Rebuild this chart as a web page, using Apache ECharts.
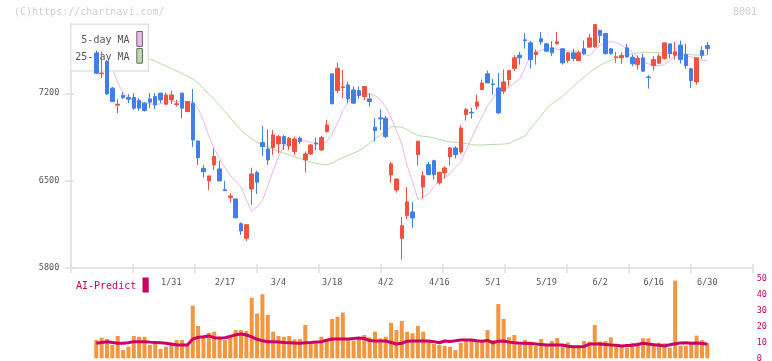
<!DOCTYPE html>
<html><head><meta charset="utf-8">
<script src="https://cdn.jsdelivr.net/npm/echarts@6/dist/echarts.min.js"></script>
<style>html,body{margin:0;padding:0;background:#fff}#c{width:772px;height:361px}</style>
</head><body><div id="c"></div>
<script>
const dates = ["1/10","1/14","1/15","1/16","1/17","1/20","1/21","1/22","1/23","1/24","1/27","1/28","1/29","1/30","1/31",
"2/3","2/4","2/5","2/6","2/7","2/10","2/12","2/13","2/14","2/17","2/18","2/19","2/20","2/21","2/25","2/26","2/27","2/28",
"3/3","3/4","3/5","3/6","3/7","3/10","3/11","3/12","3/13","3/14","3/17","3/18","3/19","3/21","3/24","3/25","3/26","3/27","3/28","3/31",
"4/1","4/2","4/3","4/4","4/7","4/8","4/9","4/10","4/11","4/14","4/15","4/16","4/17","4/18","4/21","4/22","4/23","4/24","4/25","4/28","4/30",
"5/1","5/2","5/7","5/8","5/9","5/12","5/13","5/14","5/15","5/16","5/19","5/20","5/21","5/22","5/23","5/26","5/27","5/28","5/29","5/30",
"6/2","6/3","6/4","6/5","6/6","6/9","6/10","6/11","6/12","6/13","6/16","6/17","6/18","6/19","6/20","6/23","6/24","6/25","6/26","6/27","6/30"];

const openV = [7522,7356,7454,7241,7105,7182,7166,7166,7142,7121,
7155,7174,7201,7113,7147,7110,7201,7053,7121,6818,
6599,6498,6626,6594,6428,6364,6353,6155,6038,6433,
6564,6805,6754,6765,6794,6853,6778,6733,6840,6666,
6714,6802,6746,6893,7356,7222,7246,7267,7227,7222,
7174,7155,6928,7003,7000,6546,6425,6038,6219,6249,
6708,6450,6628,6660,6482,6562,6690,6762,6730,7029,
7048,7096,7230,7356,7275,7243,7217,7310,7398,7505,
7628,7604,7510,7637,7596,7564,7596,7556,7462,7524,
7462,7556,7570,7572,7703,7679,7556,7486,7484,7564,
7489,7430,7484,7331,7422,7441,7478,7596,7505,7585,
7510,7396,7291,7542,7582];
const closeV = [7361,7362,7195,7133,7112,7166,7153,7081,7081,7061,
7129,7107,7147,7187,7187,7116,7081,7133,6826,6684,
6572,6538,6693,6498,6420,6377,6203,6097,6147,6554,
6487,6773,6666,6866,6853,6794,6840,6834,6813,6714,
6786,6794,6845,6946,7115,7401,7252,7155,7121,7182,
7254,7134,6901,6995,6853,6634,6514,6139,6329,6201,
6816,6540,6548,6548,6567,6602,6762,6708,6922,7069,
7043,7131,7283,7283,7270,7043,7291,7382,7484,7484,
7622,7470,7530,7612,7537,7524,7612,7444,7524,7478,
7524,7516,7644,7751,7663,7518,7518,7492,7502,7492,
7436,7478,7377,7326,7470,7497,7604,7518,7532,7470,
7422,7302,7484,7505,7558];
const lowV = [7353,7321,7187,7131,7040,7153,7121,7067,7061,7053,
7081,7073,7121,7107,7113,7093,6998,7053,6770,6626,
6524,6425,6586,6498,6420,6324,6197,6065,6017,6305,
6393,6698,6626,6706,6720,6746,6746,6706,6794,6564,
6706,6746,6738,6885,7115,7201,7161,7121,7115,7155,
7147,7093,6813,6906,6840,6484,6404,5867,6193,6121,
6620,6356,6548,6508,6468,6516,6620,6677,6714,6981,
6997,7069,7225,7283,7190,7035,7195,7257,7377,7430,
7558,7398,7430,7590,7532,7497,7590,7430,7444,7457,
7457,7505,7564,7564,7604,7510,7510,7444,7436,7484,
7417,7390,7372,7238,7382,7436,7470,7478,7470,7438,
7398,7243,7270,7476,7510];
const highV = [7542,7534,7468,7251,7153,7209,7193,7201,7161,7129,
7201,7201,7206,7206,7222,7147,7206,7140,7233,6818,
6626,6538,6760,6660,6498,6399,6359,6166,6153,6604,
6580,6939,6912,6906,6866,6866,6850,6853,6853,6733,
6794,6845,6858,6987,7356,7446,7388,7294,7254,7254,
7259,7201,7000,7073,7019,6652,6514,6209,6449,6329,
6821,6575,6650,6668,6570,6615,6768,6776,6944,7083,
7083,7190,7310,7382,7315,7364,7390,7382,7505,7532,
7679,7618,7550,7692,7604,7618,7692,7564,7529,7556,
7542,7622,7676,7756,7711,7684,7564,7532,7529,7596,
7510,7502,7516,7345,7497,7516,7604,7596,7612,7622,
7596,7404,7484,7578,7610];
const ma5 = [7532,7500,7452,7393,7287,7202,7166,7142,7133,7125,
7115,7108,7117,7125,7133,7133,7133,7133,7133,7076,
6980,6858,6757,6679,6604,6542,6497,6452,6346,6255,
6291,6342,6459,6577,6696,6777,6802,6814,6824,6818,
6807,6798,6790,6812,6875,6959,7062,7128,7178,7191,
7197,7195,7182,7150,7091,7005,6901,6794,6620,6493,
6348,6369,6393,6453,6503,6530,6556,6606,6651,6742,
6838,6931,7016,7101,7161,7213,7230,7250,7282,7314,
7405,7504,7523,7547,7552,7557,7554,7546,7538,7538,
7536,7517,7498,7548,7586,7607,7614,7607,7586,7559,
7530,7493,7455,7436,7424,7421,7430,7465,7498,7505,
7503,7491,7478,7465,7460];
const ma25 = [7604,7591,7579,7566,7553,7540,7527,7514,7502,7489,
7476,7457,7437,7418,7399,7380,7358,7337,7316,7282,
7239,7194,7151,7102,7053,7003,6953,6905,6870,6835,
6807,6786,6769,6751,6736,6721,6707,6692,6678,6664,
6650,6638,6632,6626,6643,6664,6685,6703,6721,6739,
6766,6800,6833,6866,6899,6933,6931,6928,6909,6885,
6861,6855,6850,6842,6830,6818,6810,6807,6804,6798,
6788,6785,6786,6788,6790,6791,6793,6798,6818,6838,
6859,6915,6968,7019,7077,7116,7146,7178,7214,7254,
7294,7330,7364,7397,7425,7445,7465,7482,7494,7506,
7517,7523,7530,7528,7527,7526,7524,7522,7519,7516,
7514,7510,7506,7506,7506];
const volume = [11.5,13,12.2,8.4,14.1,5.2,7.3,14.1,13.6,13.6,
8.4,9.5,5.9,7.3,9.5,11.5,11.5,8.8,33.2,20.4,
14.1,16.1,16.8,13,11.5,14.7,17.8,17.8,17.2,38.2,
28.2,40.4,27.3,16.8,14.1,13.6,14.1,12,12.2,21,
9.5,9.5,13.6,11.5,24.8,26.2,28.8,12,11.1,12.6,
14.7,13.2,16.8,12.6,13.6,22.4,17.8,23.5,16.8,15.8,
20.4,16.8,10.5,9,8.4,7.8,7.3,5.2,9.8,12,
12,11.5,10.8,17.8,11.5,34.2,24.8,13.2,14.7,8.4,
11.5,10.5,7.8,12.2,8.4,10.9,12.8,9,10,7.8,
7.8,10.9,10.5,21,10.5,10.9,13.2,8.8,7.8,6.7,
9.8,9.8,12.6,12.6,9.5,9.8,9.5,6.7,49,7.8,
7.8,9.8,14.3,11.5,9.5];
const aiPredict = [9.5,10,10.5,10,9.5,9.5,9.8,10.5,10.5,10.5,
10.2,10,9.8,9.5,9,8.4,8.4,8.4,12.2,13.2,
13.6,14.1,13,12.8,13,13.8,14.8,15.3,14.7,13.5,
12,11,10.5,10.5,10.3,10,9.8,9.6,9.5,9.8,
10,10.3,10.5,11.4,12.2,12.2,12.2,12.2,12.5,12.8,
12.5,11.2,10.9,10.9,10.9,10,9,9.5,10.8,10.9,
10.9,10.9,10.9,10.5,9.8,10.9,10.6,11,11.5,11.5,
11.5,11,10.8,11.3,9.8,10.8,10.9,10.2,9.8,9.5,
9.5,9.3,9,8.7,8.4,8.4,8.4,8.4,7.6,7.3,
7.3,7.5,9,9,9,8.7,8.4,8.2,7.8,8,
8.2,8.7,9.5,9,8.5,8.2,7.8,8.5,9.2,9.6,
9.8,9.5,9.6,9.3,9];
const priceTicks = [5800, 6500, 7200];
const volTicks = [0, 10, 20, 30, 40, 50];

const candleData = openV.map((o, i) => [o, closeV[i], lowV[i], highV[i]]);

const UP = '#f2513f', DOWN = '#417ee8', CRIMSON = '#cc0066', GRAYTXT = '#555', AXIS = '#dedede';
const MONO = '"DejaVu Sans Mono", "Liberation Mono", monospace';
const P_MIN = 5800, P_MAX = 7760;
const PG = {left: 70.7, right: 19.3, top: 23.4, bottom: 93};
const DG = {left: 93.6, right: 62, top: 23.4, bottom: 93};
const VG = {left: 93.6, right: 62, top: 279, bottom: 2.7};
const VAG = {left: 70.7, right: 19.3, top: 279, bottom: 2.7};
const plain = (v) => String(v);

const chart = echarts.init(document.getElementById('c'), null, {renderer: 'canvas'});
chart.setOption({
  animation: false,
  backgroundColor: '#fff',
  grid: [
    Object.assign({outerBoundsMode: 'none'}, PG),
    Object.assign({outerBoundsMode: 'none'}, DG),
    Object.assign({outerBoundsMode: 'none'}, VG),
    Object.assign({outerBoundsMode: 'none'}, VAG)
  ],
  xAxis: [
    {gridIndex: 0, type: 'value', min: 0, max: 11, interval: 1, position: 'bottom',
     axisLine: {show: true, lineStyle: {color: AXIS, width: 1.5}},
     axisTick: {show: true, length: 5, lineStyle: {color: AXIS, width: 1.5}},
     axisLabel: {show: false}, splitLine: {show: false}},
    {gridIndex: 0, type: 'value', min: 0, max: 11, interval: 1, position: 'bottom',
     axisLine: {show: false},
     axisTick: {show: true, inside: true, length: 4, lineStyle: {color: AXIS, width: 1.5}},
     axisLabel: {show: false}, splitLine: {show: false}},
    {gridIndex: 1, type: 'category', data: dates, boundaryGap: true,
     axisLine: {show: false}, axisTick: {show: false}, splitLine: {show: false},
     axisLabel: {show: true, interval: (i) => i >= 14 && (i - 4) % 10 === 0,
       color: GRAYTXT, fontFamily: MONO, fontSize: 8.5, margin: 10.5}},
    {gridIndex: 2, type: 'category', data: dates, boundaryGap: true, show: false},
    {gridIndex: 3, type: 'value', min: 0, max: 1, show: false}
  ],
  yAxis: [
    {gridIndex: 0, type: 'value', min: P_MIN, max: P_MAX, position: 'left',
     axisLine: {show: true, lineStyle: {color: AXIS, width: 1.5}},
     axisTick: {show: true, length: 6, customValues: priceTicks, lineStyle: {color: AXIS, width: 1.5}},
     axisLabel: {show: true, customValues: priceTicks, formatter: plain, color: GRAYTXT, fontFamily: MONO, fontSize: 8.5, margin: 11.4},
     splitLine: {show: false}},
    {gridIndex: 0, type: 'value', min: P_MIN, max: P_MAX, position: 'left',
     axisLine: {show: false},
     axisTick: {show: true, inside: true, length: 3.3, customValues: priceTicks, lineStyle: {color: AXIS, width: 1.5}},
     axisLabel: {show: false}, splitLine: {show: false}},
    {gridIndex: 1, type: 'value', min: P_MIN, max: P_MAX, show: false},
    {gridIndex: 2, type: 'value', min: 0, max: 50, show: false},
    {gridIndex: 3, type: 'value', min: 0, max: 50, interval: 10, position: 'right',
     axisLine: {show: false}, axisTick: {show: false}, splitLine: {show: false},
     axisLabel: {show: true, customValues: volTicks, formatter: plain, color: CRIMSON, fontFamily: MONO, fontSize: 8.5, margin: 4, align: 'left'}}
  ],
  graphic: [
    {type: 'text', x: 14, y: 12, z: 0, style: {text: '(C)https://chartnavi.com/', fill: '#cfcfcf', font: '10px ' + MONO, align: 'left', verticalAlign: 'middle', textAlign: 'left', textVerticalAlign: 'middle'}},
    {type: 'text', x: 757, y: 12, z: 0, style: {text: '8001', fill: '#cfcfcf', font: '10px ' + MONO, align: 'right', verticalAlign: 'middle', textAlign: 'right', textVerticalAlign: 'middle'}},
    {type: 'rect', z: 2, shape: {x: 70.7, y: 24.3, width: 77.6, height: 46.7}, style: {fill: '#fff', stroke: '#e2e2e2', lineWidth: 1.5}},
    {type: 'text', x: 129.5, y: 40.5, z: 2, style: {text: '5-day MA', fill: GRAYTXT, font: '10px ' + MONO, align: 'right', verticalAlign: 'middle', textAlign: 'right', textVerticalAlign: 'middle'}},
    {type: 'text', x: 129.5, y: 57, z: 2, style: {text: '25-day MA', fill: GRAYTXT, font: '10px ' + MONO, align: 'right', verticalAlign: 'middle', textAlign: 'right', textVerticalAlign: 'middle'}},
    {type: 'rect', z: 2, shape: {x: 136.8, y: 31.5, width: 5.6, height: 14.8}, style: {fill: '#ecb8ec', stroke: '#666', lineWidth: 1}},
    {type: 'rect', z: 2, shape: {x: 136.8, y: 48.6, width: 5.6, height: 14.6}, style: {fill: '#b8dcaa', stroke: '#666', lineWidth: 1}},
    {type: 'text', x: 76, y: 286, z: 2, style: {text: 'AI-Predict', fill: CRIMSON, font: '10px ' + MONO, align: 'left', verticalAlign: 'middle', textAlign: 'left', textVerticalAlign: 'middle'}},
    {type: 'rect', z: 2, shape: {x: 142.5, y: 277.5, width: 6.2, height: 15}, style: {fill: CRIMSON}}
  ],
  series: [
    {name: 'MA25', type: 'line', xAxisIndex: 2, yAxisIndex: 2, data: ma25, showSymbol: false, z: 1,
     lineStyle: {color: '#b4dca4', width: 1}, silent: true},
    {name: 'MA5', type: 'line', xAxisIndex: 2, yAxisIndex: 2, data: ma5, showSymbol: false, z: 1,
     lineStyle: {color: '#eab6ea', width: 1}, silent: true},
    {name: 'price', type: 'candlestick', xAxisIndex: 2, yAxisIndex: 2, data: candleData, z: 5,
     barWidth: 4,
     itemStyle: {color: UP, color0: DOWN, borderColor: UP, borderColor0: DOWN, borderWidth: 1}},
    {name: 'volume', type: 'bar', xAxisIndex: 3, yAxisIndex: 3, data: volume, barWidth: 4,
     itemStyle: {color: '#f2963f'}, z: 2},
    {name: 'AI', type: 'line', xAxisIndex: 3, yAxisIndex: 3, data: aiPredict, showSymbol: false, z: 3,
     lineStyle: {color: CRIMSON, width: 3}}
  ]
});
</script></body></html>
